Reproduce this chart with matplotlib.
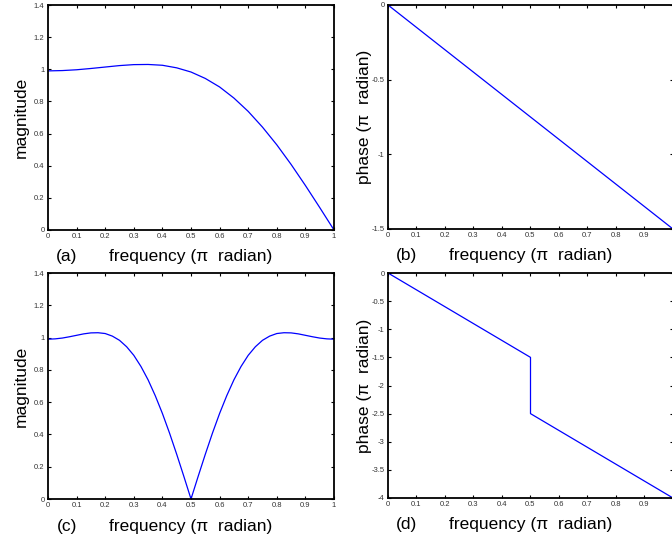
import numpy as np
import matplotlib
matplotlib.use('Agg')
import matplotlib.pyplot as plt
from matplotlib.ticker import FuncFormatter

#------------------------------
#   Data
#------------------------------

# (a) magnitude, sampled every 0.05
freq_a = [0.00, 0.05, 0.10, 0.15, 0.20, 0.25, 0.30, 0.35, 0.40, 0.45, 0.50,
          0.55, 0.60, 0.65, 0.70, 0.75, 0.80, 0.85, 0.90, 0.95, 1.00]
mag_a = [0.990, 0.992, 0.997, 1.005, 1.014, 1.023, 1.029, 1.030, 1.025, 1.009, 0.983,
         0.943, 0.890, 0.821, 0.738, 0.640, 0.530, 0.408, 0.277, 0.140, 0.000]

# (b) phase
freq_b = [0.0, 1.0]
phase_b = [0.0, -1.5]

# (c) magnitude, sampled every 0.025
freq_c = [0.000, 0.025, 0.050, 0.075, 0.100, 0.125, 0.150, 0.175, 0.200, 0.225,
          0.250, 0.275, 0.300, 0.325, 0.350, 0.375, 0.400, 0.425, 0.450, 0.475,
          0.500, 0.525, 0.550, 0.575, 0.600, 0.625, 0.650, 0.675, 0.700, 0.725,
          0.750, 0.775, 0.800, 0.825, 0.850, 0.875, 0.900, 0.925, 0.950, 0.975, 1.000]
mag_c = [0.990, 0.992, 0.997, 1.005, 1.014, 1.023, 1.029, 1.030, 1.025, 1.009,
         0.983, 0.943, 0.890, 0.821, 0.738, 0.640, 0.530, 0.408, 0.277, 0.140,
         0.000, 0.140, 0.277, 0.408, 0.530, 0.640, 0.738, 0.821, 0.890, 0.943,
         0.983, 1.009, 1.025, 1.030, 1.029, 1.023, 1.014, 1.005, 0.997, 0.992, 0.990]

# (d) phase with a pi jump at the zero
freq_d = [0.0, 0.5, 0.5, 1.0]
phase_d = [0.0, -1.5, -2.5, -4.0]

x_ticks = [0, 0.1, 0.2, 0.3, 0.4, 0.5, 0.6, 0.7, 0.8, 0.9, 1.0]
mag_ticks = [0, 0.2, 0.4, 0.6, 0.8, 1.0, 1.2, 1.4]
phase_b_ticks = [-1.5, -1.0, -0.5, 0]
phase_d_ticks = [-4, -3.5, -3, -2.5, -2, -1.5, -1, -0.5, 0]

#------------------------
#   Figure layout
#------------------------

plt.rcParams['font.family'] = ['Liberation Sans', 'DejaVu Sans']

W, H = 672, 543
fig = plt.figure(figsize=(W / 100, H / 100), dpi=100)

def px_axes(left, top, right, bottom):
    return fig.add_axes([left / W, 1 - bottom / H, (right - left) / W, (bottom - top) / H])

ax_a = px_axes(48, 5, 334, 230)
ax_b = px_axes(388, 5, 673, 229)
ax_c = px_axes(48, 273, 334, 499)
ax_d = px_axes(388, 273, 673, 498)

fmt = FuncFormatter(lambda v, p: ('%g' % round(v, 4)))
# the right-hand panels run off the image edge, so their last label is lost
fmt_cut = FuncFormatter(lambda v, p: '' if v > 0.99 else ('%g' % round(v, 4)))

def style(ax, x, y, yticks, ylim, ylabel, tag, ylab_x, xfmt):
    ax.plot(x, y, color=(0, 0, 1), linewidth=0.9)
    ax.set_xlim(0, 1)
    ax.set_ylim(*ylim)
    ax.set_xticks(x_ticks)
    ax.set_yticks(yticks)
    ax.xaxis.set_major_formatter(xfmt)
    ax.yaxis.set_major_formatter(fmt)
    ax.tick_params(direction='in', length=2.5, width=0.8, labelsize=5.5,
                   labelcolor='#333333', top=True, right=True, pad=2.5)
    for s in ax.spines.values():
        s.set_linewidth(1.3)
    ax.set_ylabel(ylabel, fontsize=12.5)
    ax.yaxis.set_label_coords(ylab_x, 0.5)
    ax.set_xlabel('frequency (\u03c0  radian)', fontsize=12.5)
    ax.xaxis.set_label_coords(0.5, -0.12)
    ax.xaxis.label.set_verticalalignment('center')
    ax.text(0.066, -0.12, tag, transform=ax.transAxes, fontsize=12.5,
            ha='center', va='center')

style(ax_a, freq_a, mag_a, mag_ticks, (0, 1.4), 'magnitude', '(a)', -0.066, fmt)
style(ax_b, freq_b, phase_b, phase_b_ticks, (-1.5, 0), 'phase (\u03c0  radian)', '(b)', -0.055, fmt_cut)
style(ax_c, freq_c, mag_c, mag_ticks, (0, 1.4), 'magnitude', '(c)', -0.066, fmt)
style(ax_d, freq_d, phase_d, phase_d_ticks, (-4, 0), 'phase (\u03c0  radian)', '(d)', -0.055, fmt_cut)

plt.savefig('out.png', dpi=100)
